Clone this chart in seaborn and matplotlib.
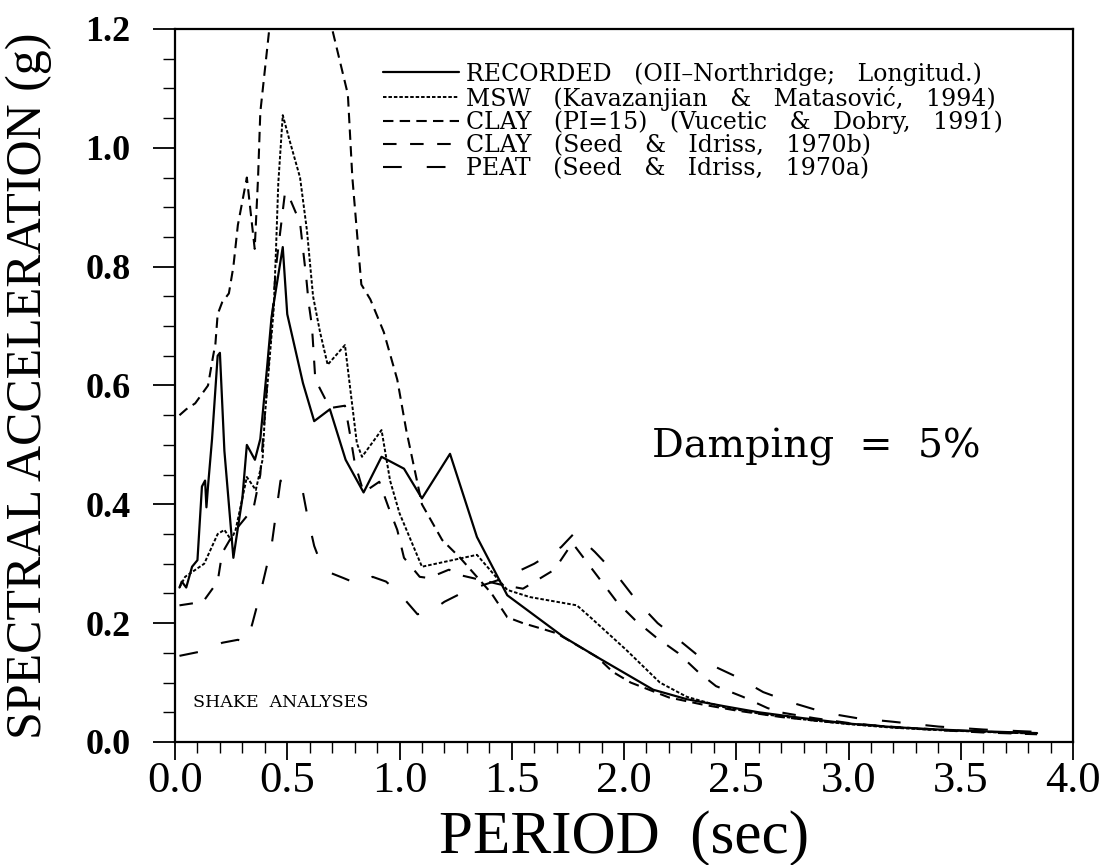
import numpy as np
import pandas as pd
import matplotlib
matplotlib.use("Agg")
import matplotlib.pyplot as plt
import seaborn as sns
from matplotlib.ticker import MultipleLocator, FormatStrFormatter

# ---------------- data ----------------
recorded_T = [0.02, 0.03, 0.05, 0.076, 0.10, 0.12, 0.134, 0.14, 0.147, 0.165,
              0.19, 0.20, 0.22, 0.26, 0.30, 0.32, 0.356, 0.38, 0.41, 0.43,
              0.48, 0.50, 0.57, 0.62, 0.69, 0.76, 0.84, 0.92, 1.02, 1.10,
              1.225, 1.345, 1.48, 1.73, 1.88, 2.13, 2.28, 2.45, 2.6, 2.8,
              3.0, 3.2, 3.4, 3.6, 3.84]
recorded_SA = [0.26, 0.27, 0.26, 0.295, 0.306, 0.43, 0.44, 0.395, 0.43, 0.51,
               0.65, 0.655, 0.49, 0.31, 0.41, 0.50, 0.475, 0.51, 0.63, 0.715,
               0.833, 0.72, 0.604, 0.54, 0.56, 0.475, 0.42, 0.48, 0.46, 0.41,
               0.485, 0.345, 0.247, 0.177, 0.143, 0.088, 0.072, 0.06, 0.05, 0.04,
               0.031, 0.025, 0.021, 0.018, 0.015]

msw_T = [0.02, 0.045, 0.13, 0.19, 0.22, 0.25, 0.27, 0.30, 0.32, 0.36,
         0.39, 0.40, 0.44, 0.45, 0.46, 0.48, 0.51, 0.557, 0.588, 0.615,
         0.646, 0.68, 0.757, 0.81, 0.833, 0.92, 0.958, 1.0, 1.1, 1.345,
         1.48, 1.58, 1.79, 1.85, 2.01, 2.16, 2.28, 2.45, 2.6, 2.8,
         3.0, 3.2, 3.4, 3.6, 3.84]
msw_SA = [0.26, 0.278, 0.30, 0.35, 0.357, 0.34, 0.357, 0.41, 0.446, 0.424,
          0.475, 0.547, 0.73, 0.83, 0.94, 1.055, 1.013, 0.95, 0.86, 0.75,
          0.69, 0.635, 0.668, 0.503, 0.48, 0.525, 0.44, 0.385, 0.295, 0.315,
          0.256, 0.244, 0.23, 0.21, 0.155, 0.10, 0.076, 0.058, 0.048, 0.038,
          0.03, 0.024, 0.02, 0.017, 0.014]

clay15_T = [0.02, 0.05, 0.09, 0.147, 0.17, 0.18, 0.19, 0.21, 0.24, 0.26,
            0.28, 0.32, 0.355, 0.37, 0.38, 0.42, 0.50, 0.60, 0.70, 0.77,
            0.79, 0.81, 0.83, 0.87, 0.93, 0.99, 1.03, 1.10, 1.19, 1.27,
            1.34, 1.41, 1.48, 1.55, 1.64, 1.70, 1.88, 1.95, 2.03, 2.2,
            2.35, 2.5, 2.7, 2.9, 3.1, 3.3, 3.5, 3.7, 3.84]
clay15_SA = [0.55, 0.56, 0.57, 0.60, 0.65, 0.67, 0.72, 0.74, 0.755, 0.80,
             0.87, 0.95, 0.83, 0.95, 1.06, 1.20, 1.32, 1.35, 1.20, 1.09,
             0.95, 0.86, 0.77, 0.745, 0.69, 0.61, 0.525, 0.40, 0.34, 0.31,
             0.28, 0.25, 0.21, 0.20, 0.19, 0.183, 0.143, 0.118, 0.10, 0.075,
             0.063, 0.053, 0.042, 0.034, 0.028, 0.023, 0.019, 0.016, 0.014]

clayb_T = [0.02, 0.125, 0.19, 0.21, 0.27, 0.35, 0.38, 0.41, 0.45, 0.49,
           0.51, 0.557, 0.57, 0.585, 0.595, 0.61, 0.625, 0.69, 0.757, 0.78,
           0.80, 0.84, 0.91, 0.95, 0.99, 1.02, 1.09, 1.13, 1.22, 1.28,
           1.45, 1.55, 1.69, 1.77, 1.90, 1.97, 2.05, 2.14, 2.24, 2.33,
           2.41, 2.53, 2.64, 2.71, 2.85, 3.0, 3.2, 3.4, 3.6, 3.84]
clayb_SA = [0.23, 0.236, 0.27, 0.318, 0.357, 0.394, 0.45, 0.60, 0.80, 0.925,
            0.916, 0.874, 0.83, 0.78, 0.74, 0.70, 0.61, 0.562, 0.566, 0.517,
            0.471, 0.42, 0.438, 0.396, 0.357, 0.31, 0.278, 0.276, 0.29, 0.28,
            0.265, 0.258, 0.29, 0.335, 0.27, 0.235, 0.205, 0.177, 0.15, 0.118,
            0.094, 0.076, 0.057, 0.049, 0.04, 0.032, 0.025, 0.02, 0.016, 0.013]

peat_T = [0.02, 0.15, 0.21, 0.28, 0.32, 0.345, 0.38, 0.43, 0.47,
          0.53, 0.57, 0.59, 0.62, 0.64, 0.69, 0.75, 0.82, 0.88, 0.94,
          1.0, 1.08, 1.14, 1.20, 1.30, 1.46, 1.60, 1.72, 1.78, 1.87,
          1.97, 2.06, 2.15, 2.26, 2.37, 2.50, 2.62, 2.75, 2.90, 3.04,
          3.20, 3.40, 3.60, 3.84]
peat_SA = [0.145, 0.155, 0.167, 0.172, 0.167, 0.20, 0.25, 0.33, 0.44,
           0.43, 0.42, 0.38, 0.33, 0.31, 0.285, 0.276, 0.265, 0.278, 0.27,
           0.25, 0.215, 0.22, 0.236, 0.255, 0.275, 0.30, 0.328, 0.352, 0.32,
           0.28, 0.236, 0.20, 0.167, 0.133, 0.11, 0.084, 0.066, 0.049, 0.04,
           0.034, 0.026, 0.021, 0.017]

labels = ["RECORDED   (OII\u2013Northridge;   Longitud.)",
          "MSW   (Kavazanjian   &   Matasovi\u0107,   1994)",
          "CLAY   (PI=15)   (Vucetic   &   Dobry,   1991)",
          "CLAY   (Seed   &   Idriss,   1970b)",
          "PEAT   (Seed   &   Idriss,   1970a)"]

x_ticks = [0.0, 0.5, 1.0, 1.5, 2.0, 2.5, 3.0, 3.5, 4.0]
y_ticks = [0.0, 0.2, 0.4, 0.6, 0.8, 1.0, 1.2]

# ---------------- style ----------------
sns.set_style("ticks")
plt.rcParams['font.family'] = ['DejaVu Serif', 'DejaVu Sans']
plt.rcParams['axes.linewidth'] = 1.6
for k in ['text.color', 'axes.labelcolor', 'xtick.color', 'ytick.color', 'axes.edgecolor']:
    plt.rcParams[k] = 'black'

W, H = 1104, 865
fig = plt.figure(figsize=(W / 100, H / 100), dpi=100)
L, R, T, B = 175, 1073, 29, 742
ax = fig.add_axes([L / W, 1 - B / H, (R - L) / W, (B - T) / H])

series = [
    (recorded_T, recorded_SA, "-", 1.6),
    (msw_T, msw_SA, (0, (1.8, 1.0)), 1.4),
    (clay15_T, clay15_SA, (0, (5.0, 3.0)), 1.5),
    (clayb_T, clayb_SA, (0, (6.5, 6.5)), 1.5),
    (peat_T, peat_SA, (0, (9.0, 12.0)), 1.5),
]

for (tx, sa, ls, lw), lab in zip(series, labels):
    df = pd.DataFrame({"Period": tx, "SA": sa})
    sns.lineplot(data=df, x="Period", y="SA", ax=ax, color="black",
                 linewidth=lw, linestyle=ls, label=lab, sort=False,
                 estimator=None)

ax.set_xlim(0, 4.0)
ax.set_ylim(0, 1.2)
ax.set_xticks(x_ticks)
ax.set_yticks(y_ticks)
ax.xaxis.set_minor_locator(MultipleLocator(0.1))
ax.yaxis.set_minor_locator(MultipleLocator(0.05))
ax.xaxis.set_major_formatter(FormatStrFormatter('%.1f'))
ax.yaxis.set_major_formatter(FormatStrFormatter('%.1f'))

ax.tick_params(axis='y', which='major', direction='out', length=16, width=1.3, pad=16)
ax.tick_params(axis='y', which='minor', direction='out', length=8.5, width=1.0)
ax.tick_params(axis='x', which='major', direction='out', length=13, width=1.3, pad=1)
ax.tick_params(axis='x', which='minor', direction='out', length=8, width=1.0)

for lbl in ax.get_yticklabels():
    lbl.set_fontfamily('Liberation Serif')
    lbl.set_fontweight('bold')
    lbl.set_fontsize(26)
for lbl in ax.get_xticklabels():
    lbl.set_fontfamily('Liberation Serif')
    lbl.set_fontsize(32)

ax.set_ylabel("SPECTRAL ACCELERATION (g)", fontfamily='Liberation Serif', fontsize=36)
ax.yaxis.set_label_coords((52 - L) / (R - L), 0.5)
ax.set_xlabel("PERIOD  (sec)", fontfamily='Liberation Serif', fontsize=44)
ax.xaxis.set_label_coords(0.5, -(810 - B) / (B - T))

for sp in ax.spines.values():
    sp.set_linewidth(1.6)
    sp.set_color('black')

leg = ax.legend(loc="upper left", bbox_to_anchor=(383 / W, 1 - 62 / H),
                bbox_transform=fig.transFigure, frameon=False, fontsize=17,
                handlelength=3.2, handletextpad=0.32, labelspacing=0.0,
                borderpad=0, borderaxespad=0)

ax.text(2.125, 0.497, "Damping  =  5%", fontsize=28.5, va='center', ha='left')
ax.text(0.08, 0.066, "SHAKE  ANALYSES", fontsize=12.5, va='center', ha='left')

fig.savefig("out.png", dpi=100)
